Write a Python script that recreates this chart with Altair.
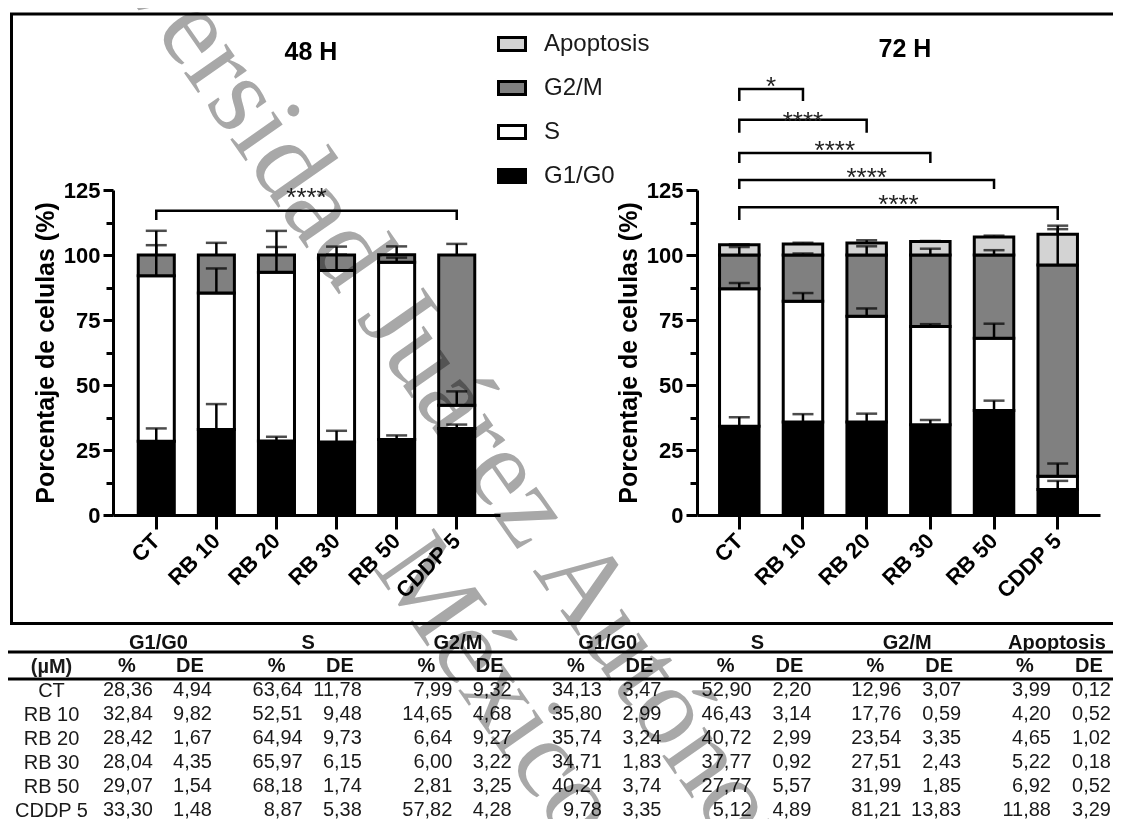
import altair as alt
import pandas as pd

# ---------------- data ----------------
conds = ["CT", "RB 10", "RB 20", "RB 30", "RB 50", "CDDP 5"]
phases = ["G1/G0", "S", "G2/M", "Apoptosis"]
legend_order = ["Apoptosis", "G2/M", "S", "G1/G0"]
phase_colors = ["#d3d3d3", "#808080", "#ffffff", "#000000"]

# 48 H  (% and DE)
g1_48 = [28.36, 32.84, 28.42, 28.04, 29.07, 33.30]
g1_48_de = [4.94, 9.82, 1.67, 4.35, 1.54, 1.48]
s_48 = [63.64, 52.51, 64.94, 65.97, 68.18, 8.87]
s_48_de = [11.78, 9.48, 9.73, 6.15, 1.74, 5.38]
g2m_48 = [7.99, 14.65, 6.64, 6.00, 2.81, 57.82]
g2m_48_de = [9.32, 4.68, 9.27, 3.22, 3.25, 4.28]

# 72 H  (% and DE)
g1_72 = [34.13, 35.80, 35.74, 34.71, 40.24, 9.78]
g1_72_de = [3.47, 2.99, 3.24, 1.83, 3.74, 3.35]
s_72 = [52.90, 46.43, 40.72, 37.77, 27.77, 5.12]
s_72_de = [2.20, 3.14, 2.99, 0.92, 5.57, 4.89]
g2m_72 = [12.96, 17.76, 23.54, 27.51, 31.99, 81.21]
g2m_72_de = [3.07, 0.59, 3.35, 2.43, 1.85, 13.83]
apo_72 = [3.99, 4.20, 4.65, 5.22, 6.92, 11.88]
apo_72_de = [0.12, 0.52, 1.02, 0.18, 0.52, 3.29]

# significance brackets (levels in % units, as drawn)
sig48_from = ["CT"]
sig48_to = ["CDDP 5"]
sig48_level = [117.0]
sig48_leg = [113.5]
sig48_label = ["****"]
sig48_label_y = [124.7]

sig72_from = ["CT", "CT", "CT", "CT", "CT"]
sig72_to = ["RB 10", "RB 20", "RB 30", "RB 50", "CDDP 5"]
sig72_level = [163.8, 152.0, 139.2, 128.8, 118.4]
sig72_leg = [159.2, 147.0, 135.4, 125.4, 113.5]
sig72_label = ["*", "****", "****", "****", "****"]
sig72_label_y = [167.3, 153.8, 142.7, 132.3, 121.9]

# table
table_times = ["48 H", "48 H", "48 H", "72 H", "72 H", "72 H", "72 H"]
table_phases = ["G1/G0", "S", "G2/M", "G1/G0", "S", "G2/M", "Apoptosis"]
table_pct = [g1_48, s_48, g2m_48, g1_72, s_72, g2m_72, apo_72]
table_de = [g1_48_de, s_48_de, g2m_48_de, g1_72_de, s_72_de, g2m_72_de, apo_72_de]
table_stub = "(µM)"

# ---------------- layout ----------------
W, H = 1105, 811
FONT = "Liberation Sans"
Y_RANGE = [507, 182]
X_AXIS_OFFSET = -(H - 507)


def stack(vals, des, names):
    rows = []
    for i, c in enumerate(conds):
        base = 0.0
        for ph, v, d in zip(names, vals, des):
            top = base + v[i]
            rows.append(dict(cond=c, phase=ph, bottom=base, top=top, errtop=top + d[i]))
            base = top
    return pd.DataFrame(rows)


def brackets(froms, tos, levels, legs, labels, label_ys):
    pts, labs = [], []
    for k, (a, b, lv, lg, lab, ly) in enumerate(zip(froms, tos, levels, legs, labels, label_ys)):
        for s, (c, y) in enumerate([(a, lg), (a, lv), (b, lv), (b, lg)]):
            pts.append(dict(id=k, seq=s, cond=c, y=y))
        mid = (conds.index(a) + conds.index(b)) / 2
        labs.append(dict(cond=conds[int(mid)], half=bool(mid % 1 > 0), y=ly, label=lab))
    return pd.DataFrame(pts), pd.DataFrame(labs)


df48 = stack([g1_48, s_48, g2m_48], [g1_48_de, s_48_de, g2m_48_de], phases[:3])
df72 = stack([g1_72, s_72, g2m_72, apo_72], [g1_72_de, s_72_de, g2m_72_de, apo_72_de], phases)
br48, lab48 = brackets(sig48_from, sig48_to, sig48_level, sig48_leg, sig48_label, sig48_label_y)
br72, lab72 = brackets(sig72_from, sig72_to, sig72_level, sig72_leg, sig72_label, sig72_label_y)

fill_scale = alt.Scale(domain=legend_order, range=phase_colors)
legend = alt.Legend(
    orient="none", legendX=489, legendY=21, title=None,
    symbolType="M-1,-0.48H1V0.48H-1Z", symbolSize=729,
    symbolStrokeColor="black", symbolStrokeWidth=3,
    labelFont=FONT, labelFontSize=24, labelColor="#1a1a1a",
    labelOffset=17, rowPadding=16, padding=0, labelLimit=300,
)


def panel(df, brk, labs, x_range, p_in, p_out, tick_y):
    step = (x_range[1] - x_range[0]) / (len(conds) - p_in + 2 * p_out)
    xsc = alt.Scale(domain=conds, range=x_range, paddingInner=p_in, paddingOuter=p_out)
    xax = alt.Axis(
        orient="bottom", offset=X_AXIS_OFFSET, title=None,
        labelAngle=-45, labelAlign="right", labelBaseline="middle",
        labelFont=FONT, labelFontSize=22, labelFontWeight="bold", labelColor="black",
        labelPadding=8, tickSize=14, tickWidth=3, tickColor="black",
        domainWidth=3, domainColor="black", grid=False,
    )
    ysc = alt.Scale(domain=[0, 125], range=Y_RANGE, nice=False)
    yax = alt.Axis(
        orient="left", offset=-x_range[0], values=[0, 25, 50, 75, 100, 125],
        labelFont=FONT, labelFontSize=22, labelFontWeight="bold", labelColor="black",
        labelPadding=3, tickSize=tick_y, tickWidth=3, tickColor="black",
        domainWidth=3, domainColor="black", grid=False, labelOverlap=False,
        title="Porcentaje de celulas (%)", titleFont=FONT, titleFontSize=25,
        titleFontWeight="bold", titleColor="black", titlePadding=5,
    )
    minor_ax = alt.Axis(
        orient="left", offset=-x_range[0], values=[12.5, 37.5, 62.5, 87.5, 112.5],
        labels=False, domain=False, tickSize=7, tickWidth=3, tickColor="black",
        grid=False, title=None,
    )
    X = alt.X("cond:N", scale=xsc, axis=xax)

    def Y(f):
        return alt.Y(f"{f}:Q", scale=ysc, axis=yax)

    bars = alt.Chart(df).mark_bar(stroke="black", strokeWidth=3).encode(
        x=X, y=Y("bottom"), y2="top:Q",
        fill=alt.Fill("phase:N", scale=fill_scale, legend=legend),
    )
    err = alt.Chart(df).mark_rule(color="black", strokeWidth=2.5).encode(
        x=X, y=Y("top"), y2="errtop:Q")
    caps = alt.Chart(df).mark_tick(color="black", size=21, thickness=2.5).encode(
        x=X, y=Y("errtop"))
    br = alt.Chart(brk).mark_line(color="black", strokeWidth=2.5).encode(
        x=X, y=Y("y"), detail="id:N", order="seq:Q")
    star_kw = dict(font=FONT, fontSize=26, color="#222222", baseline="alphabetic", dy=15)
    st_full = alt.Chart(labs).transform_filter("!datum.half").mark_text(**star_kw).encode(
        x=X, y=Y("y"), text="label:N")
    st_half = alt.Chart(labs).transform_filter("datum.half").mark_text(dx=step / 2, **star_kw).encode(
        x=X, y=Y("y"), text="label:N")
    minor = alt.Chart(df).mark_point(opacity=0).encode(
        y=alt.Y("top:Q", scale=ysc, axis=minor_ax))
    return alt.layer(bars, err, caps, br, st_full, st_half), minor


p48, minor48 = panel(df48, br48, lab48, [105, 492], 0.40, 0.42, 10)
p72, minor72 = panel(df72, br72, lab72, [689, 1092], 0.38, 0.354, 11)

# ---------------- table ----------------
row_keys = ["G", table_stub] + conds
row_scale = alt.Scale(type="point", domain=row_keys, range=[634.5, 802], padding=0)
row_axis = alt.Axis(
    orient="left", offset=-43, labelAlign="center", labelBaseline="middle",
    labelPadding=0, ticks=False, tickSize=0, domain=False, grid=False, title=None,
    labelFont=FONT, labelFontSize=20, labelColor="#1a1a1a", labelLimit=200,
    labelExpr="datum.value === 'G' ? '' : datum.label",
    labelFontWeight={"condition": {"test": f"datum.value === '{table_stub}'", "value": "bold"},
                     "value": "normal"},
)
group_keys = [f"{t} {p}" for t, p in zip(table_times, table_phases)]


def fmt(v):
    return f"{v:.2f}".replace(".", ",")


head_df = pd.DataFrame(dict(key=group_keys, row="G", text=table_phases))
pct_head_df = pd.DataFrame(dict(key=group_keys, row=table_stub, text="%"))
de_head_df = pd.DataFrame(dict(key=group_keys, row=table_stub, text="DE"))
pct_rows, de_rows = [], []
for k, pv, dv in zip(group_keys, table_pct, table_de):
    for c, p, d in zip(conds, pv, dv):
        pct_rows.append(dict(key=k, row=c, text=fmt(p)))
        de_rows.append(dict(key=k, row=c, text=fmt(d)))
pct_df = pd.DataFrame(pct_rows)
de_df = pd.DataFrame(de_rows)


def tx(rng):
    return alt.X("key:N", scale=alt.Scale(type="point", domain=group_keys, range=rng, padding=0), axis=None)


def ty(axis=None):
    return alt.Y("row:N", scale=row_scale, axis=axis)


bold_kw = dict(font=FONT, fontSize=20, fontWeight="bold", color="#111111", baseline="middle", align="center")
num_kw = dict(font=FONT, fontSize=20, color="#1a1a1a", baseline="middle", align="right")
tab_head = alt.Chart(head_df).mark_text(**bold_kw).encode(x=tx([150.5, 1049]), y=ty(), text="text:N")
tab_ph = alt.Chart(pct_head_df).mark_text(**bold_kw).encode(x=tx([119, 1017]), y=ty(), text="text:N")
tab_dh = alt.Chart(de_head_df).mark_text(**bold_kw).encode(x=tx([182, 1081]), y=ty(), text="text:N")
tab_p = alt.Chart(pct_df).mark_text(**num_kw).encode(x=tx([145, 1043]), y=ty(row_axis), text="text:N")
tab_d = alt.Chart(de_df).mark_text(**num_kw).encode(x=tx([204, 1103]), y=ty(), text="text:N")

one = pd.DataFrame({"t": [""]})
line1 = alt.Chart(one).mark_rule(color="black", strokeWidth=3).encode(
    x=alt.value(0), x2=alt.value(W), y=alt.value(644))
line2 = alt.Chart(one).mark_rule(color="black", strokeWidth=3).encode(
    x=alt.value(0), x2=alt.value(W), y=alt.value(671))
border = alt.Chart(one).mark_rect(fill="transparent", stroke="black", strokeWidth=3).encode(
    x=alt.value(3.5), x2=alt.value(W + 20), y=alt.value(6), y2=alt.value(615.5))

title_kw = dict(font=FONT, fontSize=25, fontWeight="bold", color="black", align="center", baseline="middle")
t48 = alt.Chart(pd.DataFrame({"t": ["48 H"]})).mark_text(**title_kw).encode(
    x=alt.value(303), y=alt.value(44), text="t:N")
t72 = alt.Chart(pd.DataFrame({"t": ["72 H"]})).mark_text(**title_kw).encode(
    x=alt.value(897), y=alt.value(41), text="t:N")

wm_kw = dict(font="Liberation Serif", fontSize=112, color="#a8a8a8", angle=55,
             align="center", baseline="middle", blend="multiply")
wm1 = alt.Chart(pd.DataFrame({"t": ["Universidad Juárez Autónoma de Tabasco"]})).mark_text(**wm_kw).encode(
    x=alt.value(585), y=alt.value(590), text="t:N")
wm2 = alt.Chart(pd.DataFrame({"t": ["México"]})).mark_text(**wm_kw).encode(
    x=alt.value(490), y=alt.value(680), text="t:N")

chart = alt.layer(
    border, line1, line2, tab_head, tab_ph, tab_dh, tab_p, tab_d,
    p48, minor48, p72, minor72, t48, t72, wm1, wm2,
).resolve_scale(x="independent", y="independent").properties(
    width=W, height=H, autosize=alt.AutoSizeParams(type="none"), padding=0, background="white",
).configure_view(stroke=None)

chart.save("out.html", embed_options={"renderer": "svg", "actions": False})
